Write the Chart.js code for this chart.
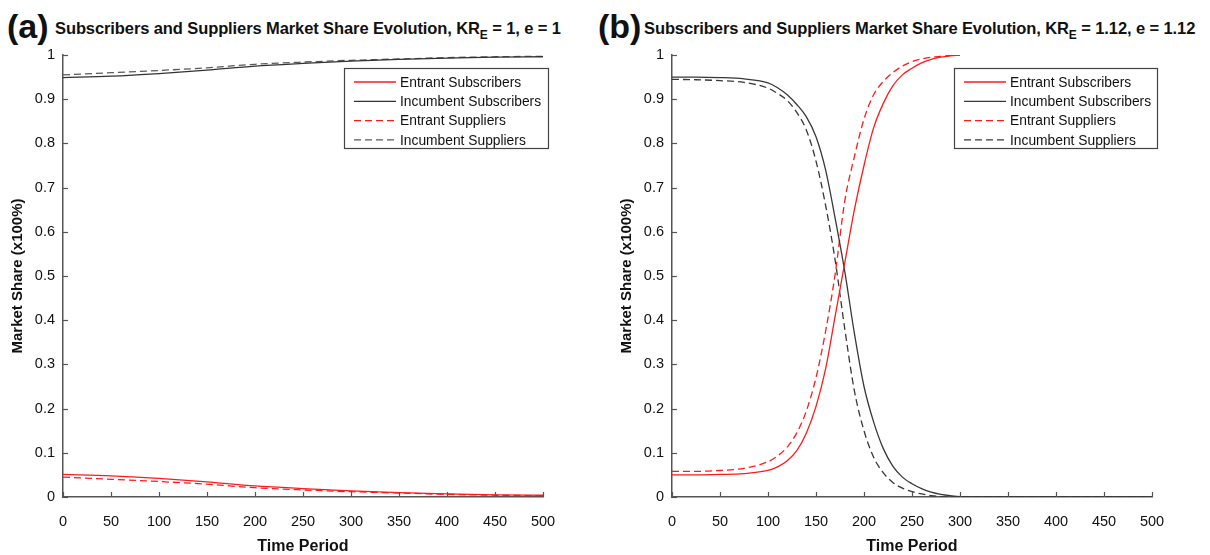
<!DOCTYPE html>
<html><head><meta charset="utf-8">
<script src="https://cdn.jsdelivr.net/npm/chart.js@4.4.1/dist/chart.umd.min.js"></script>
<style>
html,body{margin:0;padding:0;background:#fff;}
body{width:1210px;height:555px;position:relative;overflow:hidden;font-family:"Liberation Sans",Arial,sans-serif;}
.cv{position:absolute;top:0;width:600px;height:555px;}
.ttl{position:absolute;top:0;white-space:nowrap;color:#111;}
.tag{font-weight:bold;font-size:34px;position:absolute;top:7px;}
.txt{font-weight:bold;font-size:16.5px;position:absolute;top:19px;letter-spacing:-0.1px;}
.txt sub{font-size:12px;vertical-align:-5px;}
</style></head>
<body>
<div class="ttl"><span class="tag" style="left:7px">(a)</span><span class="txt" style="left:55px">Subscribers and Suppliers Market Share Evolution, KR<sub>E</sub> = 1, e = 1</span></div>
<div class="ttl"><span class="tag" style="left:598px">(b)</span><span class="txt" style="left:644px">Subscribers and Suppliers Market Share Evolution, KR<sub>E</sub> = 1.12, e = 1.12</span></div>
<canvas id="ca" class="cv" style="left:0px" width="600" height="555"></canvas>
<canvas id="cb" class="cv" style="left:609px" width="600" height="555"></canvas>
<script>
// ---------- data ----------
const seriesNames = ["Entrant Subscribers","Incumbent Subscribers","Entrant Suppliers","Incumbent Suppliers"];
const xTickLabels = ["0","50","100","150","200","250","300","350","400","450","500"];
const yTickLabels = ["0","0.1","0.2","0.3","0.4","0.5","0.6","0.7","0.8","0.9","1"];

// Panel (a): KR_E = 1, e = 1
const timeA = [0,50,100,150,200,250,300,350,400,450,500];
const entrantSubsA = [0.051,0.048,0.042,0.034,0.025,0.019,0.014,0.010,0.007,0.005,0.004];
const incumbentSubsA = [0.949,0.952,0.958,0.966,0.975,0.981,0.986,0.990,0.993,0.995,0.996];
const entrantSuppA = [0.045,0.040,0.035,0.029,0.021,0.016,0.012,0.009,0.006,0.004,0.003];
const incumbentSuppA = [0.955,0.960,0.965,0.971,0.979,0.984,0.988,0.991,0.994,0.996,0.997];

// Panel (b): KR_E = 1.12, e = 1.12
const timeBEntrant = [0,25,50,75,100,110,120,130,140,150,160,170,180,190,200,210,220,230,240,250,260,270,280,290,300];
const entrantSubsB = [0.050,0.050,0.051,0.053,0.060,0.068,0.082,0.105,0.145,0.205,0.290,0.410,0.530,0.650,0.750,0.835,0.890,0.930,0.955,0.970,0.982,0.990,0.995,0.998,1.000];
const entrantSuppB = [0.058,0.058,0.060,0.065,0.080,0.093,0.113,0.145,0.195,0.270,0.375,0.505,0.670,0.770,0.855,0.910,0.940,0.960,0.975,0.985,0.991,0.995,0.997,0.999,1.000];
const timeBIncumbent = [0,25,50,75,100,110,120,130,140,150,160,170,180,190,200,210,220,230,240,250,260,270,280,290,300,350,400,450,500];
const incumbentSubsB = [0.950,0.950,0.949,0.946,0.937,0.926,0.910,0.888,0.860,0.815,0.740,0.630,0.510,0.370,0.250,0.170,0.110,0.070,0.045,0.030,0.019,0.011,0.006,0.003,0.001,0,0,0,0];
const incumbentSuppB = [0.945,0.944,0.942,0.938,0.925,0.913,0.897,0.870,0.830,0.760,0.660,0.535,0.380,0.240,0.150,0.090,0.055,0.033,0.020,0.012,0.007,0.003,0.001,0,0,0,0,0,0];

// ---------- helpers ----------
const RED = "#ff1a1a", DARK = "#333333", GRAY_A = "#5a5a5a", DARK_B = "#383838";
const FONT = "'Liberation Sans', Arial, sans-serif";
const pts = (xs, ys) => xs.map((x, i) => ({x: x, y: ys[i]}));

function ds(label, xs, ys, color, dashed) {
  return {label, data: pts(xs, ys), borderColor: color, backgroundColor: color,
    borderWidth: 1.3, borderDash: dashed ? [7,4] : [], pointRadius: 0,
    cubicInterpolationMode: 'monotone', fill: false};
}

const inwardTicks = {
  id: 'inwardTicks',
  afterDatasetsDraw(chart) {
    const {ctx, scales: {x, y}, chartArea} = chart;
    ctx.save();
    ctx.strokeStyle = "#555"; ctx.lineWidth = 1.2;
    x.ticks.forEach(t => {
      const px = Math.round(x.getPixelForValue(t.value)) + 0.5;
      ctx.beginPath(); ctx.moveTo(px, chartArea.bottom); ctx.lineTo(px, chartArea.bottom - 5); ctx.stroke();
    });
    y.ticks.forEach(t => {
      const py = Math.round(y.getPixelForValue(t.value)) + 0.5;
      ctx.beginPath(); ctx.moveTo(chartArea.left, py); ctx.lineTo(chartArea.left + 5, py); ctx.stroke();
    });
    ctx.restore();
  }
};

const boxLegend = {
  id: 'boxLegend',
  afterDraw(chart, args, opts) {
    const {ctx, chartArea} = chart;
    const w = opts.width, h = opts.height;
    const right = chartArea.right + 5, left = right - w, top = chartArea.top + 13;
    ctx.save();
    ctx.fillStyle = "#fff";
    ctx.fillRect(left, top, w, h);
    ctx.strokeStyle = "#444"; ctx.lineWidth = 1.2;
    ctx.strokeRect(left + 0.5, top + 0.5, w, h);
    ctx.font = "13.8px " + FONT;
    ctx.textBaseline = "middle";
    chart.data.datasets.forEach((d, i) => {
      const yy = top + 14 + i * 19.3;
      ctx.strokeStyle = d.borderColor; ctx.lineWidth = 1.3;
      ctx.setLineDash(d.borderDash || []);
      ctx.beginPath(); ctx.moveTo(left + 10, yy); ctx.lineTo(left + 52, yy); ctx.stroke();
      ctx.setLineDash([]);
      ctx.fillStyle = "#111";
      ctx.fillText(d.label, left + 56, yy + 1);
    });
    ctx.restore();
  }
};

function makeChart(id, datasets, legendW) {
  return new Chart(document.getElementById(id), {
    type: 'line',
    data: {datasets},
    plugins: [inwardTicks, boxLegend],
    options: {
      responsive: false, animation: false,
      layout: {padding: {left: 0, top: 55, right: 57, bottom: 0}},
      plugins: {legend: {display: false}, title: {display: false}, tooltip: {enabled: false},
        boxLegend: {width: legendW, height: 80}},
      scales: {
        x: {type: 'linear', min: 0, max: 500,
          afterFit: s => { s.height = 58; },
          grid: {display: true, drawOnChartArea: false, drawTicks: false},
          border: {display: true, color: "#555", width: 1.5},
          ticks: {stepSize: 50, padding: 16, color: "#111", font: {family: FONT, size: 14.5},
            maxRotation: 0, autoSkip: false, callback: (v, i) => xTickLabels[i]},
          title: {display: true, text: "Time Period", color: "#111",
            font: {family: FONT, size: 16, weight: 'bold'}, padding: {top: 0, bottom: -1}}},
        y: {type: 'linear', min: 0, max: 1,
          afterFit: s => { s.width = 63; },
          grid: {display: true, drawOnChartArea: false, drawTicks: false},
          border: {display: true, color: "#555", width: 1.5},
          ticks: {stepSize: 0.1, padding: 8, color: "#111", font: {family: FONT, size: 14.5},
            autoSkip: false, callback: (v, i) => yTickLabels[i]},
          title: {display: true, text: "Market Share (x100%)", color: "#111",
            font: {family: FONT, size: 15, weight: 'bold'}, padding: {top: 9, bottom: 0}}}
      }
    }
  });
}

makeChart('ca', [
  ds(seriesNames[0], timeA, entrantSubsA, RED, false),
  ds(seriesNames[1], timeA, incumbentSubsA, DARK, false),
  ds(seriesNames[2], timeA, entrantSuppA, RED, true),
  ds(seriesNames[3], timeA, incumbentSuppA, GRAY_A, true)
], 204);

makeChart('cb', [
  ds(seriesNames[0], timeBEntrant, entrantSubsB, RED, false),
  ds(seriesNames[1], timeBIncumbent, incumbentSubsB, DARK_B, false),
  ds(seriesNames[2], timeBEntrant, entrantSuppB, RED, true),
  ds(seriesNames[3], timeBIncumbent, incumbentSuppB, DARK_B, true)
], 203);
</script>
</body></html>
